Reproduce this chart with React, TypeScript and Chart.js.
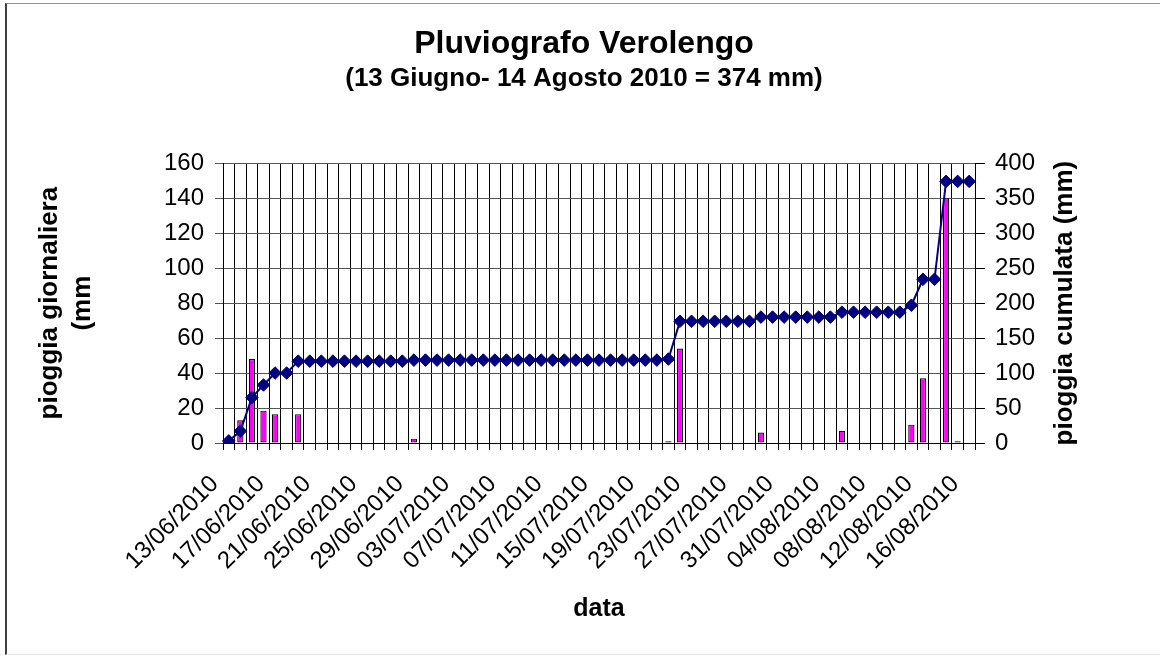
import React, { useEffect, useRef } from 'react';
import { Chart, registerables } from 'chart.js';

Chart.register(...registerables);

const FONT = "'Liberation Sans', Arial, Helvetica, sans-serif";

const dates = [
  '13/06/2010', '14/06/2010', '15/06/2010', '16/06/2010', '17/06/2010', '18/06/2010',
  '19/06/2010', '20/06/2010', '21/06/2010', '22/06/2010', '23/06/2010', '24/06/2010',
  '25/06/2010', '26/06/2010', '27/06/2010', '28/06/2010', '29/06/2010', '30/06/2010',
  '01/07/2010', '02/07/2010', '03/07/2010', '04/07/2010', '05/07/2010', '06/07/2010',
  '07/07/2010', '08/07/2010', '09/07/2010', '10/07/2010', '11/07/2010', '12/07/2010',
  '13/07/2010', '14/07/2010', '15/07/2010', '16/07/2010', '17/07/2010', '18/07/2010',
  '19/07/2010', '20/07/2010', '21/07/2010', '22/07/2010', '23/07/2010', '24/07/2010',
  '25/07/2010', '26/07/2010', '27/07/2010', '28/07/2010', '29/07/2010', '30/07/2010',
  '31/07/2010', '01/08/2010', '02/08/2010', '03/08/2010', '04/08/2010', '05/08/2010',
  '06/08/2010', '07/08/2010', '08/08/2010', '09/08/2010', '10/08/2010', '11/08/2010',
  '12/08/2010', '13/08/2010', '14/08/2010', '15/08/2010', '16/08/2010',
];

// pioggia giornaliera (mm) - left axis
const dailyRain = [
  3, 13, 48, 18.5, 16.5, 0, 16.5,
  0, 0, 0, 0, 0, 0, 0, 0, 0,
  2.5,
  0, 0, 0, 0, 0, 0, 0, 0, 0, 0, 0, 0, 0, 0, 0, 0, 0, 0, 0, 0, 0,
  1, 54,
  0, 0, 0, 0, 0, 0,
  6,
  0, 0, 0, 0, 0, 0,
  7,
  0, 0, 0, 0, 0,
  10.5, 37, 0, 140, 1, 0,
];

// pioggia cumulata (mm) - right axis
const cumulativeRain = [
  3, 17, 65, 83, 100, 100,
  117, 117, 117, 117, 117, 117, 117, 117, 117, 117,
  118.5, 118.5, 118.5, 118.5, 118.5, 118.5, 118.5, 118.5, 118.5, 118.5, 118.5,
  118.5, 118.5, 118.5, 118.5, 118.5, 118.5, 118.5, 118.5, 118.5, 118.5, 118.5,
  120,
  174, 174, 174, 174, 174, 174, 174,
  180, 180, 180, 180, 180, 180, 180,
  187, 187, 187, 187, 187, 187,
  197, 234, 234, 374, 374, 374,
];

const TITLE = 'Pluviografo Verolengo';
const SUBTITLE = '(13 Giugno- 14 Agosto 2010 = 374 mm)';
const LEFT_TITLE = ['pioggia giornaliera', '(mm'];
const RIGHT_TITLE = 'pioggia cumulata (mm)';
const X_TITLE = 'data';

export default function App() {
  const canvasRef = useRef<HTMLCanvasElement>(null);

  useEffect(() => {
    const canvas = canvasRef.current;
    if (!canvas) return;
    Chart.defaults.font.family = FONT;
    Chart.defaults.color = '#000';

    const rightTitlePlugin = {
      id: 'rightTitle',
      afterDraw(chart: any) {
        const c = chart.ctx;
        const area = chart.chartArea;
        c.save();
        c.translate(1065, (area.top + area.bottom) / 2);
        c.rotate(-Math.PI / 2);
        c.font = `bold 26px ${FONT}`;
        c.fillStyle = '#000';
        c.textAlign = 'center';
        c.textBaseline = 'middle';
        c.fillText(RIGHT_TITLE, 0, 0);
        c.restore();
      },
    };

    const chart = new Chart(canvas, {
      type: 'bar',
      data: {
        labels: dates,
        datasets: [
          {
            type: 'line',
            label: 'pioggia cumulata',
            data: cumulativeRain,
            yAxisID: 'y2',
            borderColor: '#000080',
            backgroundColor: '#000080',
            borderWidth: 2,
            pointStyle: 'rectRot',
            pointRadius: 6.3,
            pointBorderWidth: 1,
            pointBackgroundColor: '#000080',
            pointBorderColor: '#000080',
            tension: 0,
            order: 0,
          } as any,
          {
            type: 'bar',
            label: 'pioggia giornaliera',
            data: dailyRain,
            yAxisID: 'y',
            backgroundColor: '#FF00FF',
            borderColor: '#000000',
            borderWidth: 1.2,
            borderSkipped: false,
            categoryPercentage: 1,
            barPercentage: 0.54,
            order: 1,
          } as any,
        ],
      },
      options: {
        animation: false,
        responsive: false,
        layout: { padding: { left: 8, right: 0, top: 0, bottom: 0 } },
        plugins: {
          legend: { display: false },
          tooltip: { enabled: false },
          title: {
            display: true,
            text: TITLE,
            color: '#000',
            font: { size: 32, weight: 'bold', lineHeight: 1.2 },
            padding: { top: 25, bottom: 0 },
          },
          subtitle: {
            display: true,
            text: SUBTITLE,
            color: '#000',
            font: { size: 26, weight: 'bold', lineHeight: 1.2 },
            padding: { top: 0, bottom: 68.6 },
          },
        },
        scales: {
          x: {
            type: 'category',
            offset: true,
            grid: { offset: true, color: '#000', lineWidth: 1, tickLength: 7, drawTicks: true },
            border: { color: '#000', width: 1 },
            ticks: {
              autoSkip: false,
              minRotation: 45,
              maxRotation: 45,
              padding: 20,
              labelOffset: -14,
              color: '#000',
              font: { size: 24 },
              callback: (_v: any, i: number) => (i % 4 === 0 ? dates[i] : ''),
            },
            title: {
              display: true,
              text: X_TITLE,
              color: '#000',
              font: { size: 25, weight: 'bold', lineHeight: 1.2 },
              padding: { top: 0, bottom: 31 },
            },
            afterFit: (s: any) => {
              s.height = 212;
            },
          },
          y: {
            position: 'left',
            min: 0,
            max: 160,
            ticks: { stepSize: 20, padding: 11, color: '#000', font: { size: 24 } },
            grid: { color: '#555', lineWidth: 1, tickLength: 8 },
            border: { color: '#000', width: 1 },
            title: {
              display: true,
              text: LEFT_TITLE,
              color: '#000',
              font: { size: 26, weight: 'bold', lineHeight: 1.25 },
              padding: { top: 25.75, bottom: 0 },
            },
            afterFit: (s: any) => {
              s.width = 215;
            },
          },
          y2: {
            position: 'right',
            min: 0,
            max: 400,
            ticks: { stepSize: 50, padding: 10, color: '#000', font: { size: 24 } },
            grid: { drawOnChartArea: false, color: '#000', lineWidth: 1, tickLength: 10 },
            border: { color: '#000', width: 1 },
            afterFit: (s: any) => {
              s.width = 185;
            },
          },
        },
      } as any,
      plugins: [rightTitlePlugin],
    });

    return () => chart.destroy();
  }, []);

  return (
    <div style={{ position: 'fixed', left: 0, top: 0, width: 1160, height: 655, background: '#fff', overflow: 'hidden' }}>
      <div
        style={{
          position: 'absolute',
          left: 5,
          top: 3,
          width: 1180,
          height: 650,
          borderLeft: '2px solid #404040',
          borderTop: '1px solid #909090',
          borderBottom: '1px solid #e6e6e6',
        }}
      />
      <canvas ref={canvasRef} width={1160} height={655} style={{ position: 'absolute', left: 0, top: 0 }} />
    </div>
  );
}
